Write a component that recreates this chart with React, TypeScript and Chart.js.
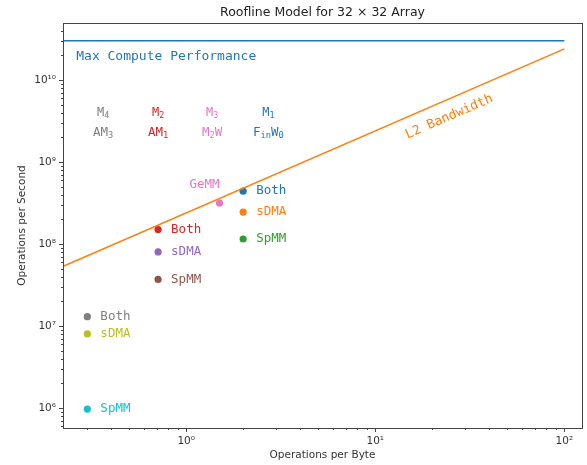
import React, { useEffect, useRef } from 'react';
import { Chart, registerables } from 'chart.js';

Chart.register(...registerables);

// ---------- text ----------
const titleText = 'Roofline Model for 32 × 32 Array';
const xAxisTitle = 'Operations per Byte';
const yAxisTitle = 'Operations per Second';

// ---------- axis ranges ----------
const xMin = 0.223;
const xMax = 124;
const yMin = 5.7e5;
const yMax = 4.95e10;

// ---------- workload points ----------
const pointNames = ['GeMM', 'Both', 'sDMA', 'SpMM', 'Both', 'sDMA', 'SpMM', 'Both', 'sDMA', 'SpMM'];
const pointX = [1.5, 2.0, 2.0, 2.0, 0.71, 0.71, 0.71, 0.3, 0.3, 0.3];
const pointY = [3.16e8, 4.4e8, 2.45e8, 1.15e8, 1.5e8, 8.0e7, 3.7e7, 1.3e7, 8.0e6, 9.7e5];

// ---------- roofline ----------
const rooflineX = [0.2, 100];
const computeRoofY = [3.0e10, 3.0e10];
const bandwidthRoofY = [4.78e7, 2.39e10];

const computeLabel = 'Max Compute Performance';
const computeLabelX = 0.262;
const computeLabelY = 1.9e10;
const bandwidthLabel = 'L2 Bandwidth';
const bandwidthLabelX = 24.6;
const bandwidthLabelY = 3.55e9;

// ---------- group labels ----------
const groupTopLabels = ['M_4', 'M_2', 'M_3', 'M_1'];
const groupBottomLabels = ['AM_3', 'AM_1', 'M_2W', 'F_{in}W_0'];
const groupX = [0.364, 0.71, 1.37, 2.72];
const groupTopY = 4.0e9;
const groupBottomY = 2.3e9;

// ---------- styles ----------
const TAB = {
  blue: '#1f77b4', orange: '#ff7f0e', green: '#2ca02c', red: '#d62728', purple: '#9467bd',
  brown: '#8c564b', pink: '#e377c2', gray: '#7f7f7f', olive: '#bcbd22', cyan: '#17becf',
};
const pointColors = [TAB.pink, TAB.blue, TAB.orange, TAB.green, TAB.red, TAB.purple, TAB.brown, TAB.gray, TAB.olive, TAB.cyan];
const groupColors = [TAB.gray, TAB.red, TAB.pink, TAB.blue];
const MONO = '"DejaVu Sans Mono", monospace';
const SANS = '"DejaVu Sans", sans-serif';
const AXIS_COLOR = '#333';

const SUP: Record<string, string> = { '0': '⁰', '1': '¹', '2': '²', '3': '³', '4': '⁴', '5': '⁵', '6': '⁶', '7': '⁷', '8': '⁸', '9': '⁹', '-': '⁻' };

function isPow10(v: number) {
  const l = Math.log10(v);
  return Math.abs(l - Math.round(l)) < 1e-9;
}
function pow10Label(v: number) {
  const e = String(Math.round(Math.log10(v)));
  return '10' + e.split('').map((c) => SUP[c] || c).join('');
}
function logTicks(min: number, max: number) {
  const out: number[] = [];
  for (let e = Math.floor(Math.log10(min)) - 1; e <= Math.ceil(Math.log10(max)); e++) {
    for (let k = 1; k <= 9; k++) {
      const v = k * Math.pow(10, e);
      if (v >= min * 0.9999 && v <= max * 1.0001) out.push(v);
    }
  }
  return out;
}

type Seg = { t: string; sub: boolean };
function parseRich(s: string): Seg[] {
  const segs: Seg[] = [];
  let cur = '';
  for (let i = 0; i < s.length; i++) {
    const c = s[i];
    if (c === '_') {
      if (cur) { segs.push({ t: cur, sub: false }); cur = ''; }
      if (s[i + 1] === '{') {
        const end = s.indexOf('}', i + 2);
        segs.push({ t: s.slice(i + 2, end), sub: true });
        i = end;
      } else {
        segs.push({ t: s[i + 1], sub: true });
        i += 1;
      }
    } else cur += c;
  }
  if (cur) segs.push({ t: cur, sub: false });
  return segs;
}
function drawRich(ctx: CanvasRenderingContext2D, s: string, cx: number, cy: number, size: number, color: string) {
  const segs = parseRich(s);
  const mainFont = `${size}px ${MONO}`;
  const subFont = `${size * 0.7}px ${MONO}`;
  let w = 0;
  for (const sg of segs) { ctx.font = sg.sub ? subFont : mainFont; w += ctx.measureText(sg.t).width; }
  let x = cx - w / 2;
  ctx.textAlign = 'left';
  ctx.textBaseline = 'middle';
  ctx.fillStyle = color;
  for (const sg of segs) {
    ctx.font = sg.sub ? subFont : mainFont;
    ctx.fillText(sg.t, x, sg.sub ? cy + size * 0.28 : cy);
    x += ctx.measureText(sg.t).width;
  }
}

const overlayPlugin = {
  id: 'rooflineOverlay',
  afterDatasetsDraw(chart: any) {
    const ctx: CanvasRenderingContext2D = chart.ctx;
    const xs = chart.scales.x;
    const ys = chart.scales.y;
    const a = chart.chartArea;
    ctx.save();

    // frame
    ctx.strokeStyle = '#444';
    ctx.lineWidth = 1;
    ctx.strokeRect(Math.round(a.left) + 0.5, Math.round(a.top) + 0.5, Math.round(a.right - a.left), Math.round(a.bottom - a.top));

    // tick marks
    ctx.beginPath();
    for (const v of logTicks(xMin, xMax)) {
      const px = Math.round(xs.getPixelForValue(v)) + 0.5;
      const len = isPow10(v) ? 4 : 2;
      ctx.moveTo(px, a.bottom);
      ctx.lineTo(px, a.bottom + len);
    }
    for (const v of logTicks(yMin, yMax)) {
      const py = Math.round(ys.getPixelForValue(v)) + 0.5;
      const len = isPow10(v) ? 4 : 2;
      ctx.moveTo(a.left, py);
      ctx.lineTo(a.left - len, py);
    }
    ctx.stroke();

    // title
    ctx.fillStyle = '#222';
    ctx.font = `12.5px ${SANS}`;
    ctx.textAlign = 'center';
    ctx.textBaseline = 'middle';
    ctx.fillText(titleText, (a.left + a.right) / 2, 13);

    // max compute label
    ctx.fillStyle = TAB.blue;
    ctx.font = `13px ${MONO}`;
    ctx.textAlign = 'left';
    ctx.fillText(computeLabel, xs.getPixelForValue(computeLabelX), ys.getPixelForValue(computeLabelY));

    // bandwidth label (rotated along the line)
    const x0 = xs.getPixelForValue(rooflineX[0]);
    const y0 = ys.getPixelForValue(bandwidthRoofY[0]);
    const x1 = xs.getPixelForValue(rooflineX[1]);
    const y1 = ys.getPixelForValue(bandwidthRoofY[1]);
    const ang = Math.atan2(y1 - y0, x1 - x0);
    ctx.save();
    ctx.translate(xs.getPixelForValue(bandwidthLabelX), ys.getPixelForValue(bandwidthLabelY));
    ctx.rotate(ang);
    ctx.fillStyle = TAB.orange;
    ctx.font = `13px ${MONO}`;
    ctx.textAlign = 'center';
    ctx.fillText(bandwidthLabel, 0, 0);
    ctx.restore();

    // point labels
    ctx.font = `12.5px ${MONO}`;
    ctx.textBaseline = 'middle';
    pointNames.forEach((name, i) => {
      const px = xs.getPixelForValue(pointX[i]);
      const py = ys.getPixelForValue(pointY[i]);
      ctx.fillStyle = pointColors[i];
      if (name === 'GeMM') {
        ctx.textAlign = 'center';
        ctx.fillText(name, px - 15, py - 18);
      } else {
        ctx.textAlign = 'left';
        ctx.fillText(name, px + 13, py);
      }
    });

    // group labels
    groupX.forEach((gx, i) => {
      const cx = xs.getPixelForValue(gx);
      drawRich(ctx, groupTopLabels[i], cx, ys.getPixelForValue(groupTopY), 12, groupColors[i]);
      drawRich(ctx, groupBottomLabels[i], cx, ys.getPixelForValue(groupBottomY), 12.5, groupColors[i]);
    });

    ctx.restore();
  },
};

export default function App() {
  const canvasRef = useRef<HTMLCanvasElement | null>(null);

  useEffect(() => {
    if (!canvasRef.current) return;
    const chart = new Chart(canvasRef.current, {
      type: 'scatter',
      data: {
        datasets: [
          {
            label: 'compute',
            data: rooflineX.map((x, i) => ({ x, y: computeRoofY[i] })),
            showLine: true,
            borderColor: TAB.blue,
            borderWidth: 1.5,
            pointRadius: 0,
          },
          {
            label: 'bandwidth',
            data: rooflineX.map((x, i) => ({ x, y: bandwidthRoofY[i] })),
            showLine: true,
            borderColor: TAB.orange,
            borderWidth: 1.5,
            pointRadius: 0,
          },
          {
            label: 'workloads',
            data: pointX.map((x, i) => ({ x, y: pointY[i] })),
            backgroundColor: pointColors,
            borderWidth: 0,
            pointRadius: 3.6,
          },
        ],
      },
      options: {
        animation: false,
        responsive: false,
        devicePixelRatio: 1,
        layout: { padding: { top: 23, right: 5, left: 0, bottom: 0 } },
        plugins: { legend: { display: false }, tooltip: { enabled: false }, title: { display: false } },
        scales: {
          x: {
            type: 'logarithmic',
            min: xMin,
            max: xMax,
            grid: { display: false, drawTicks: false },
            border: { display: false },
            afterBuildTicks: (scale: any) => {
              scale.ticks = logTicks(xMin, xMax).map((v) => ({ value: v, major: isPow10(v) }));
            },
            afterFit: (scale: any) => { scale.height = 37; },
            ticks: {
              autoSkip: false,
              maxRotation: 0,
              minRotation: 0,
              padding: 7,
              color: AXIS_COLOR,
              font: { family: SANS, size: 10.5 },
              callback: (v: any) => (isPow10(Number(v)) ? pow10Label(Number(v)) : null),
            },
            title: {
              display: true,
              text: xAxisTitle,
              color: AXIS_COLOR,
              font: { family: SANS, size: 10.5 },
              padding: { top: 0, bottom: 3 },
            },
          },
          y: {
            type: 'logarithmic',
            min: yMin,
            max: yMax,
            grid: { display: false, drawTicks: false },
            border: { display: false },
            afterBuildTicks: (scale: any) => {
              scale.ticks = logTicks(yMin, yMax).map((v) => ({ value: v, major: isPow10(v) }));
            },
            afterFit: (scale: any) => { scale.width = 63; },
            ticks: {
              autoSkip: false,
              padding: 7,
              color: AXIS_COLOR,
              font: { family: SANS, size: 10.5 },
              callback: (v: any) => (isPow10(Number(v)) ? pow10Label(Number(v)) : null),
            },
            title: {
              display: true,
              text: yAxisTitle,
              color: AXIS_COLOR,
              font: { family: SANS, size: 10.5 },
              padding: { top: 16, bottom: 0 },
            },
          },
        },
      },
      plugins: [overlayPlugin],
    } as any);
    return () => chart.destroy();
  }, []);

  return (
    <div style={{ width: 587, height: 465, position: 'relative' }}>
      <style>{'body{margin:0;background:#fff}'}</style>
      <canvas ref={canvasRef} width={587} height={465} style={{ display: 'block' }} />
    </div>
  );
}
